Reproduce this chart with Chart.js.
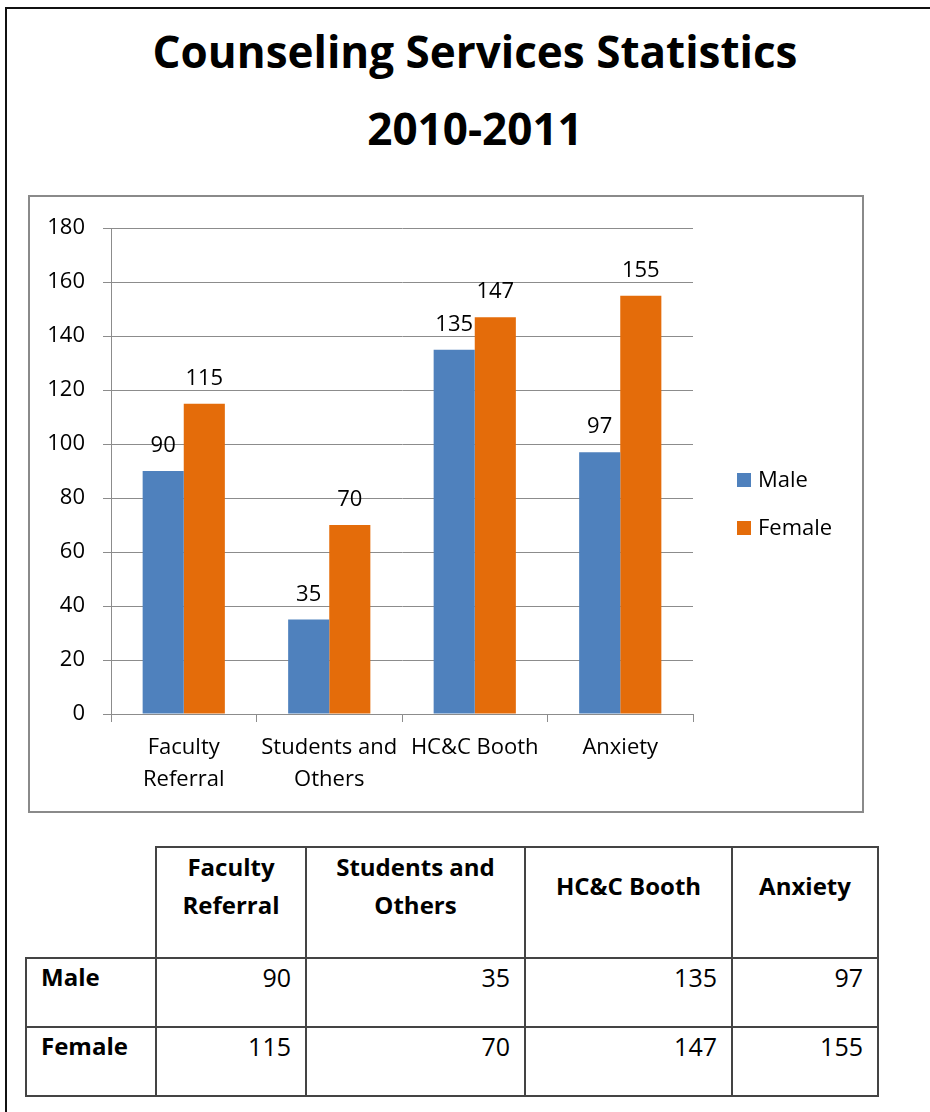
<!DOCTYPE html>
<html>
<head>
<meta charset="utf-8">
<title>Counseling Services Statistics 2010-2011</title>
<script src="https://cdn.jsdelivr.net/npm/chart.js@4.4.1/dist/chart.umd.min.js"></script>
<style>
    html, body { margin: 0; padding: 0; background: #fff; }
    body {
        width: 930px; height: 1112px; position: relative; overflow: hidden;
        font-family: 'Open Sans', sans-serif; color: #000;
    }
    .page-edge {
        position: absolute; left: 5px; top: 7px; width: 940px; height: 1120px;
        border-top: 2px solid #111; border-left: 2px solid #111;
    }
    .title {
        position: absolute; left: 20px; top: 13px; width: 910px;
        text-align: center; font-weight: 700; font-size: 44px; line-height: 77px;
    }
    .chart-box {
        position: absolute; left: 28px; top: 195px; width: 832px; height: 614px;
        border: 2px solid #8a8a8a;
    }
    .chart-box canvas { display: block; }
    table {
        position: absolute; left: 25px; top: 846px;
        border-collapse: collapse; table-layout: fixed; width: 852px;
    }
    th, td { border: 2px solid #444; padding: 0 14px; }
    th { font-size: 24px; font-weight: 700; text-align: center; vertical-align: middle; line-height: 38px; padding-bottom: 33px; padding-top: 0; }
    td { font-size: 25px; text-align: right; vertical-align: top; line-height: 36px; }
    td.rowhead { text-align: left; font-weight: 700; font-size: 24px; }
    th.blank { border-top: none; border-left: none; }
    tr.head { height: 109px; }
    tr.data { height: 69px; }
</style>
</head>
<body>
<div class="page-edge"></div>
<div class="title">Counseling Services Statistics<br>2010-2011</div>
<div class="chart-box"><canvas id="countChart" width="832" height="614"></canvas></div>
<table id="countTable">
    <colgroup>
        <col style="width:130px"><col style="width:150px"><col style="width:219px"><col style="width:207px"><col style="width:146px">
    </colgroup>
    <thead></thead>
    <tbody></tbody>
</table>

<script>
// === DATA ===
const categories = [['Faculty', 'Referral'], ['Students and', 'Others'], 'HC&C Booth', 'Anxiety'];
const seriesNames = ['Male', 'Female'];
const maleValues = [90, 35, 135, 97];
const femaleValues = [115, 70, 147, 155];
const yMin = 0;
const yMax = 180;
const yStep = 20;

const seriesColors = ['#4F81BD', '#E46C0A'];
const axisGray = '#8c8c8c';
const fontFamily = "'Open Sans', sans-serif";

// === TABLE ===
function renderTable() {
    const table = document.getElementById('countTable');
    const head = table.querySelector('thead');
    const body = table.querySelector('tbody');
    head.innerHTML = '<tr class="head"><th class="blank"></th>' +
        categories.map(c => `<th>${Array.isArray(c) ? c.join('<br>') : c}</th>`).join('') +
        '</tr>';
    const rows = [maleValues, femaleValues];
    body.innerHTML = rows.map((vals, i) => `
        <tr class="data">
            <td class="rowhead">${seriesNames[i]}</td>
            ${vals.map(v => `<td>${v}</td>`).join('')}
        </tr>
    `).join('');
}

// === PLUGINS ===
const valueLabels = {
    id: 'valueLabels',
    afterDatasetsDraw(chart, args, opts) {
        const { ctx } = chart;
        ctx.save();
        ctx.font = opts.font;
        ctx.fillStyle = opts.color;
        ctx.textAlign = 'center';
        ctx.textBaseline = 'alphabetic';
        chart.data.datasets.forEach((ds, di) => {
            chart.getDatasetMeta(di).data.forEach((bar, i) => {
                ctx.fillText(String(ds.data[i]), bar.x, bar.y - opts.offset);
            });
        });
        ctx.restore();
    }
};

const sideLegend = {
    id: 'sideLegend',
    afterDraw(chart, args, opts) {
        const { ctx } = chart;
        ctx.save();
        ctx.font = opts.font;
        ctx.textBaseline = 'middle';
        ctx.textAlign = 'left';
        chart.data.datasets.forEach((ds, i) => {
            const y = opts.y + i * opts.gap;
            ctx.fillStyle = ds.backgroundColor;
            ctx.fillRect(opts.x, y - opts.box / 2, opts.box, opts.box);
            ctx.fillStyle = opts.color;
            ctx.fillText(ds.label, opts.x + opts.box + opts.textGap, y + 1);
        });
        ctx.restore();
    }
};

// === CHART ===
function createCountChart() {
    const ctx = document.getElementById('countChart').getContext('2d');
    new Chart(ctx, {
        type: 'bar',
        data: {
            labels: categories,
            datasets: [
                { label: seriesNames[0], data: maleValues, backgroundColor: seriesColors[0] },
                { label: seriesNames[1], data: femaleValues, backgroundColor: seriesColors[1] }
            ]
        },
        plugins: [valueLabels, sideLegend],
        options: {
            responsive: false,
            animation: false,
            devicePixelRatio: 1,
            categoryPercentage: 0.565,
            barPercentage: 1,
            layout: { padding: { left: 0, top: 28, right: 169, bottom: 0 } },
            plugins: {
                legend: { display: false },
                tooltip: { enabled: false },
                valueLabels: { font: `22px ${fontFamily}`, color: '#000', offset: 19 },
                sideLegend: { font: `22px ${fontFamily}`, color: '#000', x: 707, y: 283, gap: 48, box: 14, textGap: 7 }
            },
            scales: {
                x: {
                    grid: { display: true, drawOnChartArea: false, drawTicks: true, tickLength: 8, color: axisGray, offset: true },
                    border: { display: true, color: axisGray, width: 1 },
                    ticks: { color: '#000', padding: 10, maxRotation: 0, autoSkip: false, font: { size: 22, family: fontFamily, lineHeight: 1.45 } },
                    afterFit: s => { s.height = 97; }
                },
                y: {
                    min: yMin,
                    max: yMax,
                    grid: { color: axisGray, tickLength: 8 },
                    border: { display: true, color: axisGray, width: 1 },
                    ticks: { stepSize: yStep, color: '#000', padding: 18, font: { size: 22, family: fontFamily } },
                    afterFit: s => { s.width = 81; }
                }
            }
        }
    });
}

document.addEventListener('DOMContentLoaded', () => {
    renderTable();
    createCountChart();
});
</script>
</body>
</html>
